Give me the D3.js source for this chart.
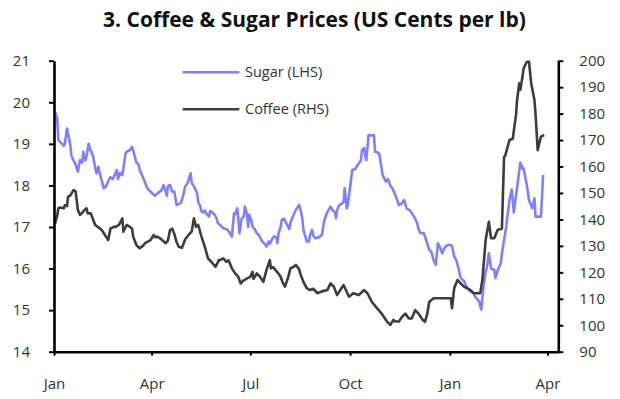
<!DOCTYPE html>
<html>
<head>
<meta charset="utf-8">
<script src="https://cdn.jsdelivr.net/npm/d3@7"></script>
<style>
  body { margin: 0; background: #fff; }
  svg text { font-family: "Open Sans", sans-serif; }
</style>
</head>
<body>
<svg width="620" height="399"></svg>
<script>
const sugarDates = [
  "2013-01-02","2013-01-04","2013-01-05","2013-01-08","2013-01-10","2013-01-11","2013-01-13","2013-01-14","2013-01-16","2013-01-17",
  "2013-01-19","2013-01-21","2013-01-23","2013-01-25","2013-01-27","2013-01-28","2013-01-30","2013-01-31","2013-02-02","2013-02-03",
  "2013-02-06","2013-02-09","2013-02-11","2013-02-12","2013-02-16","2013-02-18","2013-02-20","2013-02-22","2013-02-24","2013-02-25",
  "2013-02-28","2013-03-01","2013-03-03","2013-03-05","2013-03-08","2013-03-09","2013-03-12","2013-03-14","2013-03-16","2013-03-18",
  "2013-03-20","2013-03-21","2013-03-24","2013-03-28","2013-03-31","2013-04-02","2013-04-04","2013-04-07","2013-04-10","2013-04-12",
  "2013-04-14","2013-04-15","2013-04-16","2013-04-18","2013-04-20","2013-04-22","2013-04-24","2013-04-26","2013-04-28","2013-04-30",
  "2013-05-02","2013-05-04","2013-05-07","2013-05-08","2013-05-10","2013-05-13","2013-05-14","2013-05-16","2013-05-17","2013-05-19",
  "2013-05-20","2013-05-22","2013-05-24","2013-05-25","2013-05-27","2013-05-29","2013-05-31","2013-06-01","2013-06-03","2013-06-06",
  "2013-06-09","2013-06-11","2013-06-12","2013-06-14","2013-06-16","2013-06-17","2013-06-19","2013-06-20","2013-06-21","2013-06-23",
  "2013-06-25","2013-06-26","2013-06-28","2013-06-29","2013-06-30","2013-07-02","2013-07-03","2013-07-05","2013-07-07","2013-07-09",
  "2013-07-12","2013-07-14","2013-07-16","2013-07-18","2013-07-19","2013-07-21","2013-07-23","2013-07-25","2013-07-26","2013-07-27",
  "2013-07-29","2013-07-30","2013-08-01","2013-08-04","2013-08-06","2013-08-07","2013-08-10","2013-08-12","2013-08-15","2013-08-16",
  "2013-08-18","2013-08-19","2013-08-21","2013-08-22","2013-08-24","2013-08-25","2013-08-27","2013-08-28","2013-08-30","2013-09-02",
  "2013-09-05","2013-09-07","2013-09-09","2013-09-11","2013-09-13","2013-09-15","2013-09-17","2013-09-18","2013-09-19","2013-09-21",
  "2013-09-23","2013-09-25","2013-09-26","2013-09-27","2013-09-28","2013-09-29","2013-09-30","2013-10-03","2013-10-06","2013-10-09",
  "2013-10-11","2013-10-12","2013-10-14","2013-10-15","2013-10-16","2013-10-17","2013-10-18","2013-10-21","2013-10-23","2013-10-24",
  "2013-10-26","2013-10-28","2013-10-31","2013-11-03","2013-11-05","2013-11-07","2013-11-09","2013-11-12","2013-11-15","2013-11-17",
  "2013-11-20","2013-11-22","2013-11-25","2013-11-27","2013-11-29","2013-12-02","2013-12-03","2013-12-05","2013-12-08","2013-12-10",
  "2013-12-13","2013-12-15","2013-12-17","2013-12-19","2013-12-21","2013-12-23","2013-12-25","2013-12-27","2013-12-29","2013-12-31",
  "2014-01-03","2014-01-05","2014-01-07","2014-01-09","2014-01-11","2014-01-14","2014-01-17","2014-01-20","2014-01-23","2014-01-25",
  "2014-01-28","2014-01-29","2014-01-30","2014-02-01","2014-02-03","2014-02-04","2014-02-06","2014-02-08","2014-02-11","2014-02-12",
  "2014-02-14","2014-02-17","2014-02-18","2014-02-20","2014-02-22","2014-02-23","2014-02-25","2014-02-27","2014-03-01","2014-03-04",
  "2014-03-06","2014-03-07","2014-03-09","2014-03-10","2014-03-13","2014-03-15","2014-03-18","2014-03-20","2014-03-21","2014-03-24",
  "2014-03-26","2014-03-28"
];
const sugarCents = [
  19.77,19.6,19.09,19.01,18.95,19.0,19.37,19.25,18.97,18.72,
  18.6,18.5,18.33,18.61,18.55,18.81,18.6,18.7,19.0,18.9,
  18.7,18.29,18.45,18.3,17.93,17.98,18.1,18.2,18.15,18.2,
  18.37,18.15,18.3,18.25,18.77,18.81,18.85,18.93,18.75,18.55,
  18.5,18.37,18.2,17.93,17.85,17.8,17.75,17.82,17.88,18.01,
  17.85,17.75,17.98,18.01,17.85,17.85,17.53,17.55,17.58,17.75,
  17.97,18.05,18.29,18.05,17.98,17.81,17.6,17.49,17.37,17.35,
  17.4,17.3,17.25,17.38,17.35,17.3,17.2,17.1,17.05,16.97,
  16.95,16.9,16.85,16.77,17.33,17.3,17.45,17.2,16.85,17.2,
  17.25,17.49,17.3,17.0,17.3,17.15,17.01,16.95,16.85,16.8,
  16.65,16.6,16.53,16.65,16.6,16.7,16.78,16.75,16.61,16.85,
  17.0,17.17,17.2,17.05,16.95,17.1,17.3,17.41,17.53,17.45,
  17.2,16.93,16.75,16.65,16.65,16.8,16.93,16.8,16.73,16.75,
  16.81,17.13,17.3,17.4,17.49,17.4,17.35,17.21,17.4,17.53,
  17.55,17.6,17.93,17.7,17.45,17.55,17.75,18.37,18.4,18.53,
  18.6,18.85,18.9,18.7,18.61,18.9,19.21,19.2,19.21,18.81,
  18.8,18.75,18.25,18.09,18.15,18.0,17.93,17.75,17.53,17.55,
  17.65,17.45,17.4,17.33,17.25,17.09,16.95,16.85,16.85,16.7,
  16.45,16.4,16.2,16.09,16.61,16.5,16.37,16.5,16.55,16.57,
  16.55,16.29,16.2,16.0,15.77,15.7,15.53,15.45,15.4,15.3,
  15.21,15.1,15.01,15.57,15.93,16.0,16.37,16.0,15.97,15.77,
  15.95,16.13,16.37,16.69,17.0,17.25,17.65,17.9,17.35,17.95,
  18.35,18.55,18.4,18.41,18.0,17.65,17.45,17.69,17.25,17.25,
  17.25,18.25
];
const coffeeDates = [
  "2013-01-02","2013-01-04","2013-01-05","2013-01-07","2013-01-10","2013-01-11","2013-01-13","2013-01-14","2013-01-16","2013-01-19",
  "2013-01-21","2013-01-22","2013-01-23","2013-01-25","2013-01-27","2013-01-29","2013-01-31","2013-02-01","2013-02-04","2013-02-06",
  "2013-02-08","2013-02-11","2013-02-14","2013-02-17","2013-02-20","2013-02-22","2013-02-25","2013-02-27","2013-03-02","2013-03-05",
  "2013-03-06","2013-03-09","2013-03-12","2013-03-14","2013-03-15","2013-03-18","2013-03-21","2013-03-24","2013-03-26","2013-03-31",
  "2013-04-03","2013-04-04","2013-04-06","2013-04-09","2013-04-14","2013-04-16","2013-04-18","2013-04-20","2013-04-22","2013-04-24",
  "2013-04-26","2013-04-29","2013-05-02","2013-05-05","2013-05-08","2013-05-10","2013-05-12","2013-05-14","2013-05-17","2013-05-20",
  "2013-05-23","2013-05-26","2013-05-30","2013-06-02","2013-06-03","2013-06-06","2013-06-09","2013-06-11","2013-06-14","2013-06-17",
  "2013-06-20","2013-06-22","2013-06-25","2013-06-28","2013-07-01","2013-07-03","2013-07-04","2013-07-07","2013-07-10","2013-07-13",
  "2013-07-16","2013-07-19","2013-07-20","2013-07-22","2013-07-26","2013-07-29","2013-07-31","2013-08-02","2013-08-05","2013-08-07",
  "2013-08-10","2013-08-12","2013-08-15","2013-08-16","2013-08-19","2013-08-22","2013-08-25","2013-08-28","2013-09-01","2013-09-05",
  "2013-09-10","2013-09-13","2013-09-16","2013-09-19","2013-09-22","2013-09-25","2013-09-30","2013-10-04","2013-10-09","2013-10-14",
  "2013-10-17","2013-10-21","2013-10-26","2013-10-31","2013-11-04","2013-11-07","2013-11-10","2013-11-12","2013-11-15","2013-11-18",
  "2013-11-21","2013-11-24","2013-11-27","2013-11-30","2013-12-03","2013-12-07","2013-12-09","2013-12-11","2013-12-13","2013-12-15",
  "2013-12-17","2013-12-24","2014-01-02","2014-01-03","2014-01-05","2014-01-08","2014-01-11","2014-01-14","2014-01-17","2014-01-20",
  "2014-01-23","2014-01-29","2014-01-31","2014-02-03","2014-02-06","2014-02-08","2014-02-11","2014-02-14","2014-02-18","2014-02-20",
  "2014-02-21","2014-02-25","2014-02-28","2014-03-03","2014-03-04","2014-03-06","2014-03-07","2014-03-09","2014-03-10","2014-03-13",
  "2014-03-15","2014-03-17","2014-03-20","2014-03-21","2014-03-23","2014-03-24","2014-03-26","2014-03-29"
];
const coffeeCents = [
  138.5,141.5,144.2,144.5,144.2,145.4,145.0,148.6,149.0,151.1,
  150.5,147.0,143.6,141.7,142.5,143.5,144.2,142.3,142.3,140.0,
  137.9,137.0,136.0,134.1,132.2,136.5,137.2,137.2,138.0,140.4,
  135.4,137.9,137.2,136.5,133.5,130.3,129.1,130.0,131.0,132.2,
  134.1,133.3,133.5,132.8,131.0,132.0,136.0,136.5,134.5,131.5,
  129.7,129.3,132.5,134.1,135.5,140.4,137.2,137.9,133.5,129.7,
  125.3,124.0,122.1,124.6,124.6,125.3,124.0,124.5,121.5,119.6,
  118.3,115.8,117.0,117.7,118.3,120.2,117.5,119.6,118.3,116.4,
  120.9,124.6,121.5,122.0,120.0,118.3,116.0,114.6,118.3,121.5,
  122.1,122.8,121.2,119.6,116.4,114.0,113.3,113.8,112.1,112.8,
  113.3,115.8,114.6,111.4,113.3,115.2,110.8,112.1,111.4,113.3,
  112.1,108.9,106.4,103.9,101.4,100.1,102.0,101.4,101.4,103.2,
  104.4,102.6,102.6,105.7,104.5,102.0,101.3,104.0,108.9,109.5,
  110.2,110.2,110.2,106.4,114.0,117.1,115.8,114.6,114.0,113.3,
  112.1,112.1,117.1,132.2,139.1,132.9,132.9,136.0,136.6,163.7,
  164.0,170.0,170.5,179.5,185.1,191.5,189.0,194.0,197.1,199.6,
  199.6,191.5,185.1,180.0,166.2,168.0,171.3,171.9
];
const leftTicks = [14, 15, 16, 17, 18, 19, 20, 21];
const rightTicks = [90, 100, 110, 120, 130, 140, 150, 160, 170, 180, 190, 200];
const monthTicks = ["2013-01-01", "2013-04-01", "2013-07-01", "2013-10-01", "2014-01-01", "2014-04-01"];
const monthLabels = ["Jan", "Apr", "Jul", "Oct", "Jan", "Apr"];
const series = [
  { name: "Sugar (LHS)", color: "#8080fc" },
  { name: "Coffee (RHS)", color: "#3d3d3d" }
];

const parse = d3.timeParse("%Y-%m-%d");
const sugar = sugarDates.map((d, i) => ({ date: parse(d), value: sugarCents[i] }));
const coffee = coffeeDates.map((d, i) => ({ date: parse(d), value: coffeeCents[i] }));

const plotLeft = 54, plotRight = 558.3, plotTop = 60.7, plotBottom = 351.7;
const svg = d3.select("svg");

const x = d3.scaleTime()
  .domain([parse("2013-01-01"), parse("2014-04-11")])
  .range([plotLeft, plotRight]);
const yL = d3.scaleLinear().domain([14, 21]).range([plotBottom, plotTop]);
const yR = d3.scaleLinear().domain([90, 200]).range([plotBottom, plotTop]);

svg.append("text")
  .attr("x", 314.5)
  .attr("y", 27)
  .attr("text-anchor", "middle")
  .attr("font-size", 21)
  .attr("font-weight", "bold")
  .attr("fill", "#111")
  .text("3. Coffee & Sugar Prices (US Cents per lb)");

// lines
const lineL = d3.line().x(d => x(d.date)).y(d => yL(d.value));
const lineR = d3.line().x(d => x(d.date)).y(d => yR(d.value));

svg.append("path")
  .datum(sugar)
  .attr("fill", "none")
  .attr("stroke", series[0].color)
  .attr("stroke-width", 2.6)
  .attr("stroke-linejoin", "round")
  .attr("d", lineL);

svg.append("path")
  .datum(coffee)
  .attr("fill", "none")
  .attr("stroke", series[1].color)
  .attr("stroke-width", 2.6)
  .attr("stroke-linejoin", "round")
  .attr("d", lineR);

// axes
const styleAxis = g => {
  g.select(".domain").attr("stroke", "#000").attr("stroke-width", 2.6);
  g.selectAll(".tick line").attr("stroke", "#000").attr("stroke-width", 2);
  g.selectAll(".tick text").attr("fill", "#333").attr("font-size", 15)
    .attr("font-family", "'Open Sans', sans-serif");
};

svg.append("g")
  .attr("transform", `translate(${plotLeft},0)`)
  .call(d3.axisLeft(yL).tickValues(leftTicks).tickFormat(d3.format("d"))
    .tickSize(5).tickSizeOuter(0).tickPadding(19))
  .call(styleAxis);

svg.append("g")
  .attr("transform", `translate(${plotRight},0)`)
  .call(d3.axisRight(yR).tickValues(rightTicks).tickFormat(d3.format("d"))
    .tickSize(5).tickSizeOuter(0).tickPadding(16))
  .call(styleAxis);

svg.append("g")
  .attr("transform", `translate(0,${plotBottom})`)
  .call(d3.axisBottom(x)
    .tickValues(monthTicks.map(parse))
    .tickFormat((d, i) => monthLabels[i])
    .tickSize(4).tickSizeOuter(0).tickPadding(23))
  .call(styleAxis);

// legend
const legend = svg.append("g");
series.forEach((s, i) => {
  const ly = 72.3 + i * 37;
  legend.append("line")
    .attr("x1", 182.7).attr("x2", 239.3)
    .attr("y1", ly).attr("y2", ly)
    .attr("stroke", s.color)
    .attr("stroke-width", 2.6);
  legend.append("text")
    .attr("x", 245)
    .attr("y", ly)
    .attr("dy", "0.35em")
    .attr("font-size", 14.5)
    .attr("fill", "#333")
    .text(s.name);
});
</script>
</body>
</html>
